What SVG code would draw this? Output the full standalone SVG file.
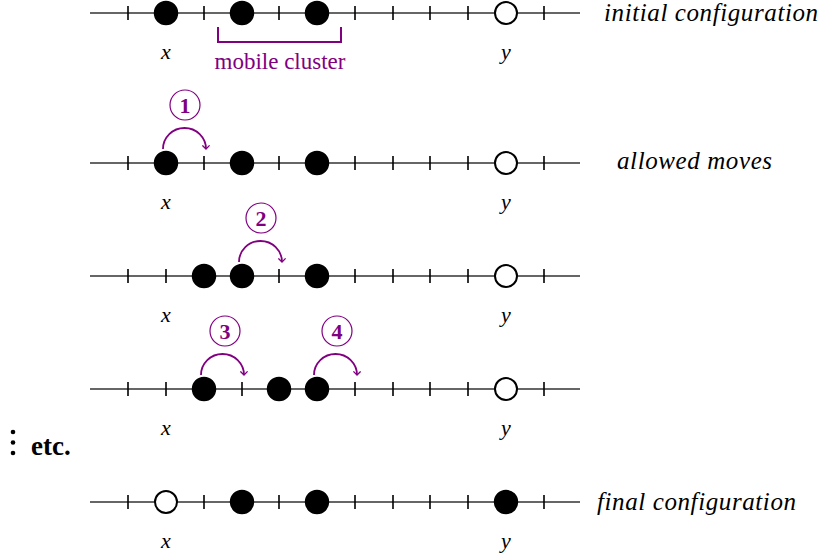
<svg xmlns="http://www.w3.org/2000/svg" width="818" height="558" viewBox="0 0 818 558">
<defs>
<marker id="ah" viewBox="0 0 10 10" refX="5" refY="5" markerWidth="9" markerHeight="9" orient="auto" markerUnits="userSpaceOnUse">
<path d="M1,1 L5,5 L1,9" fill="none" stroke="#800080" stroke-width="1.4"/>
</marker>
<g id="tl">
<line x1="90" y1="0" x2="580" y2="0" class="ax"/>
<line x1="128" y1="-7" x2="128" y2="7" class="tk"/>
<line x1="166" y1="-7" x2="166" y2="7" class="tk"/>
<line x1="204" y1="-7" x2="204" y2="7" class="tk"/>
<line x1="242" y1="-7" x2="242" y2="7" class="tk"/>
<line x1="279" y1="-7" x2="279" y2="7" class="tk"/>
<line x1="317" y1="-7" x2="317" y2="7" class="tk"/>
<line x1="355" y1="-7" x2="355" y2="7" class="tk"/>
<line x1="393" y1="-7" x2="393" y2="7" class="tk"/>
<line x1="430" y1="-7" x2="430" y2="7" class="tk"/>
<line x1="468" y1="-7" x2="468" y2="7" class="tk"/>
<line x1="506" y1="-7" x2="506" y2="7" class="tk"/>
<line x1="544" y1="-7" x2="544" y2="7" class="tk"/>
<text x="166" y="46" class="var">x</text>
<text x="506" y="46" class="var">y</text>
</g>
</defs>
<style>
.ax{stroke:#333;stroke-width:1.3}
.tk{stroke:#000;stroke-width:1.6}
.full{fill:#000;stroke:#000;stroke-width:1.5}
.empty{fill:#fff;stroke:#000;stroke-width:2}
text{font-family:'Liberation Serif','Times New Roman',Tinos,'DejaVu Serif',serif}
.var{font-style:italic;font-size:22px;text-anchor:middle;fill:#000}
.lab{font-style:italic;font-size:25px;letter-spacing:0.6px;fill:#000}
.arc{fill:none;stroke:#800080;stroke-width:1.8}
.num{fill:#fff;stroke:#800080;stroke-width:1.2}
.numt{font-weight:bold;font-size:22px;fill:#800080;text-anchor:middle}
</style>

<g id="row1">
<use href="#tl" y="13"/>
<circle cx="166" cy="13" r="11.5" class="full"/>
<circle cx="242" cy="13" r="11.5" class="full"/>
<circle cx="317" cy="13" r="11.5" class="full"/>
<circle cx="506" cy="13" r="11" class="empty"/>
<text x="604" y="21" class="lab">initial configuration</text>
</g>
<g id="cluster">
<path d="M218,27 V42 H341 V27" fill="none" stroke="#800080" stroke-width="2"/>
<text x="280" y="69" font-size="23" fill="#800080" text-anchor="middle">mobile cluster</text>
</g>

<g id="row2">
<use href="#tl" y="163"/>
<circle cx="166" cy="163" r="11.5" class="full"/>
<circle cx="242" cy="163" r="11.5" class="full"/>
<circle cx="317" cy="163" r="11.5" class="full"/>
<circle cx="506" cy="163" r="11" class="empty"/>
<text x="617" y="169" class="lab">allowed moves</text>
</g>

<g id="row3">
<use href="#tl" y="276"/>
<circle cx="204" cy="276" r="11.5" class="full"/>
<circle cx="242" cy="276" r="11.5" class="full"/>
<circle cx="317" cy="276" r="11.5" class="full"/>
<circle cx="506" cy="276" r="11" class="empty"/>
</g>

<g id="row4">
<use href="#tl" y="389"/>
<circle cx="204" cy="389" r="11.5" class="full"/>
<circle cx="279" cy="389" r="11.5" class="full"/>
<circle cx="317" cy="389" r="11.5" class="full"/>
<circle cx="506" cy="389" r="11" class="empty"/>
</g>

<g id="etc">
<circle cx="13" cy="432" r="2.3" fill="#000"/>
<circle cx="13" cy="442.5" r="2.3" fill="#000"/>
<circle cx="13" cy="453" r="2.3" fill="#000"/>
<text x="31" y="455" font-weight="bold" font-size="27" fill="#000">etc.</text>
</g>

<g id="row5">
<use href="#tl" y="502"/>
<circle cx="166" cy="502" r="11" class="empty"/>
<circle cx="242" cy="502" r="11.5" class="full"/>
<circle cx="317" cy="502" r="11.5" class="full"/>
<circle cx="506" cy="502" r="11.5" class="full"/>
<text x="597" y="510" class="lab">final configuration</text>
</g>

<g id="connectors">
<path d="M163,149 A21.5,21 0 0 1 206,149" class="arc" marker-end="url(#ah)"/>
<path d="M239,262 A21.5,21 0 0 1 282,262" class="arc" marker-end="url(#ah)"/>
<path d="M201,375 A21.5,21 0 0 1 244,375" class="arc" marker-end="url(#ah)"/>
<path d="M314,375 A21.5,21 0 0 1 357,375" class="arc" marker-end="url(#ah)"/>
</g>

<g id="n1"><circle cx="185" cy="105" r="15" class="num"/><text x="185" y="113" class="numt">1</text></g>
<g id="n2"><circle cx="261" cy="218" r="15" class="num"/><text x="261" y="226" class="numt">2</text></g>
<g id="n3"><circle cx="225" cy="331" r="15" class="num"/><text x="225" y="339" class="numt">3</text></g>
<g id="n4"><circle cx="337" cy="331" r="15" class="num"/><text x="337" y="339" class="numt">4</text></g>
</svg>
